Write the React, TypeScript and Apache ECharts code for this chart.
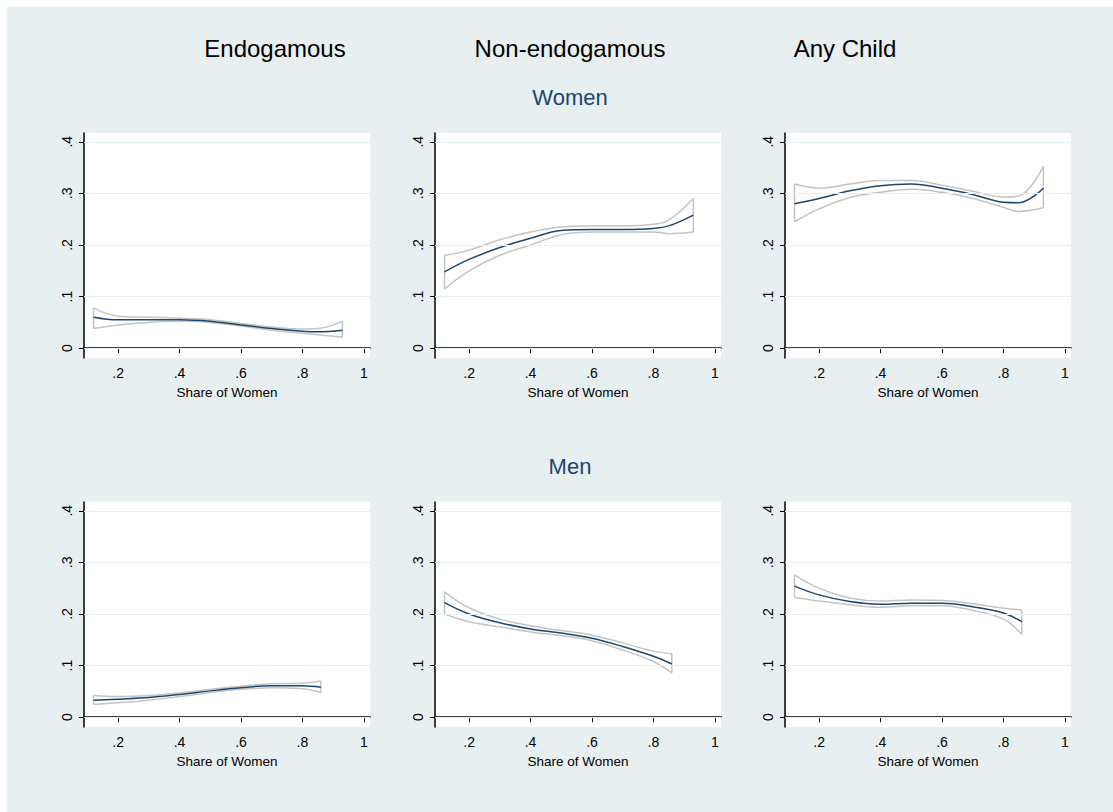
import React, { useRef, useEffect } from 'react';
import * as echarts from 'echarts';

const xTop = [0.12, 0.2, 0.3, 0.4, 0.5, 0.6, 0.7, 0.8, 0.85, 0.93];
const xBot = [0.12, 0.2, 0.3, 0.4, 0.5, 0.6, 0.7, 0.8, 0.86];

const womenEndoEst = [0.06, 0.055, 0.055, 0.055, 0.052, 0.045, 0.038, 0.033, 0.032, 0.035];
const womenEndoHi = [0.078, 0.062, 0.06, 0.058, 0.055, 0.048, 0.041, 0.037, 0.038, 0.052];
const womenEndoLo = [0.038, 0.045, 0.05, 0.052, 0.05, 0.043, 0.035, 0.029, 0.026, 0.021];

const womenNonEst = [0.148, 0.172, 0.195, 0.213, 0.228, 0.23, 0.23, 0.232, 0.237, 0.258];
const womenNonHi = [0.18, 0.19, 0.21, 0.225, 0.235, 0.237, 0.237, 0.24, 0.248, 0.29];
const womenNonLo = [0.115, 0.15, 0.18, 0.2, 0.22, 0.225, 0.225, 0.225, 0.222, 0.225];

const womenAnyEst = [0.28, 0.29, 0.305, 0.315, 0.318, 0.31, 0.298, 0.283, 0.282, 0.31];
const womenAnyHi = [0.318, 0.31, 0.318, 0.325, 0.325, 0.316, 0.304, 0.293, 0.295, 0.352];
const womenAnyLo = [0.245, 0.27, 0.292, 0.302, 0.308, 0.302, 0.29, 0.273, 0.265, 0.272];

const menEndoEst = [0.033, 0.035, 0.038, 0.044, 0.051, 0.057, 0.061, 0.061, 0.058];
const menEndoHi = [0.042, 0.04, 0.042, 0.047, 0.054, 0.06, 0.065, 0.066, 0.07];
const menEndoLo = [0.025, 0.028, 0.033, 0.04, 0.048, 0.054, 0.057, 0.055, 0.048];

const menNonEst = [0.222, 0.2, 0.183, 0.171, 0.163, 0.153, 0.137, 0.118, 0.103];
const menNonHi = [0.243, 0.212, 0.19, 0.177, 0.168, 0.159, 0.144, 0.128, 0.123];
const menNonLo = [0.2, 0.185, 0.175, 0.165, 0.158, 0.148, 0.13, 0.108, 0.086];

const menAnyEst = [0.254, 0.237, 0.224, 0.219, 0.221, 0.221, 0.214, 0.202, 0.185];
const menAnyHi = [0.276, 0.25, 0.231, 0.225, 0.227, 0.226, 0.22, 0.211, 0.208];
const menAnyLo = [0.232, 0.225, 0.218, 0.213, 0.216, 0.216, 0.207, 0.19, 0.16];

const yTicks = [0, 0.1, 0.2, 0.3, 0.4];
const xTicks = [0.2, 0.4, 0.6, 0.8, 1];
const colTitles = ['Endogamous', 'Non-endogamous', 'Any Child'];

const panels = [
  { xs: xTop, est: womenEndoEst, hi: womenEndoHi, lo: womenEndoLo },
  { xs: xTop, est: womenNonEst, hi: womenNonHi, lo: womenNonLo },
  { xs: xTop, est: womenAnyEst, hi: womenAnyHi, lo: womenAnyLo },
  { xs: xBot, est: menEndoEst, hi: menEndoHi, lo: menEndoLo },
  { xs: xBot, est: menNonEst, hi: menNonHi, lo: menNonLo },
  { xs: xBot, est: menAnyEst, hi: menAnyHi, lo: menAnyLo },
];

const colLeft = [84, 435, 785];
const rowTop = [133, 502];
const FONT = 'Liberation Sans, Arial, sans-serif';
const NAVY = '#1a476f';
const CI = '#c4c4c4';

const fmt = (v: number) => (v === 0 ? '0' : v === 1 ? '1' : String(v).replace(/^0/, ''));

const App: React.FC = () => {
  const chartRef = useRef<HTMLDivElement>(null);

  useEffect(() => {
    if (!chartRef.current) return;
    const chart = echarts.init(chartRef.current, null, { renderer: 'svg' });

    const grids: any[] = [];
    const xAxes: any[] = [];
    const yAxes: any[] = [];
    const series: any[] = [];

    panels.forEach((p, i) => {
      const r = Math.floor(i / 3);
      const c = i % 3;
      grids.push({
        left: colLeft[c], top: rowTop[r], width: 286, height: 225,
        backgroundColor: '#fff', show: true, borderWidth: 0,
      });
      xAxes.push({
        gridIndex: i, type: 'value', min: 0.089, max: 1.02,
        name: 'Share of Women', nameLocation: 'middle', nameGap: 27,
        nameTextStyle: { fontFamily: FONT, fontSize: 13.5, color: '#000' },
        axisLine: { lineStyle: { color: '#000', width: 1.5 } },
        axisTick: { customValues: xTicks, length: 5, lineStyle: { color: '#000' } },
        axisLabel: { customValues: xTicks, formatter: fmt, fontFamily: FONT, fontSize: 14, color: '#000', margin: 8 },
        splitLine: { show: false },
      });
      yAxes.push({
        gridIndex: i, type: 'value', min: -0.019, max: 0.417,
        axisLine: { show: true, lineStyle: { color: '#000', width: 1.5 } },
        axisTick: { show: true, customValues: yTicks, length: 5, lineStyle: { color: '#000' } },
        axisLabel: { customValues: yTicks, formatter: fmt, rotate: 90, fontFamily: FONT, fontSize: 14, color: '#000', margin: 10 },
        splitLine: { show: false },
      });
      const n = p.xs.length - 1;
      const base = { type: 'line', xAxisIndex: i, yAxisIndex: i, showSymbol: false, silent: true, z: 2 };
      series.push({
        ...base, data: p.xs.map((x, k) => [x, p.hi[k]]), smooth: 0.4,
        lineStyle: { color: CI, width: 1.5 },
        markLine: {
          silent: true, symbol: 'none', label: { show: false },
          lineStyle: { color: '#e6eff1', type: 'solid', width: 1 },
          data: yTicks.map((v) => ({ yAxis: v })),
        },
      });
      series.push({ ...base, data: p.xs.map((x, k) => [x, p.lo[k]]), smooth: 0.4, lineStyle: { color: CI, width: 1.5 } });
      series.push({ ...base, data: [[p.xs[0], p.lo[0]], [p.xs[0], p.hi[0]]], lineStyle: { color: CI, width: 1.5 } });
      series.push({ ...base, data: [[p.xs[n], p.lo[n]], [p.xs[n], p.hi[n]]], lineStyle: { color: CI, width: 1.5 } });
      series.push({
        ...base, data: p.xs.map((x, k) => [x, p.est[k]]), smooth: 0.4,
        lineStyle: { color: NAVY, width: 1.5 }, z: 3,
      });
    });

    const headerX = [275, 570, 845];
    chart.setOption({
      animation: false,
      backgroundColor: '#fff',
      graphic: [
        { type: 'rect', shape: { x: 7, y: 7, width: 1106, height: 805 }, style: { fill: '#e8eff1' }, z: -10 },
        ...colTitles.map((t, k) => ({
          type: 'text', x: headerX[k], y: 48,
          style: { text: t, fontFamily: FONT, fontSize: 24, fill: '#000', textAlign: 'center', textVerticalAlign: 'middle' },
        })),
        { type: 'text', x: 570, y: 97, style: { text: 'Women', fontFamily: FONT, fontSize: 22, fill: NAVY, textAlign: 'center', textVerticalAlign: 'middle' } },
        { type: 'text', x: 570, y: 466, style: { text: 'Men', fontFamily: FONT, fontSize: 22, fill: NAVY, textAlign: 'center', textVerticalAlign: 'middle' } },
      ],
      grid: grids,
      xAxis: xAxes,
      yAxis: yAxes,
      series,
    });

    return () => chart.dispose();
  }, []);

  return (
    <div
      ref={chartRef}
      style={{ position: 'absolute', left: 0, top: 0, width: 1113, height: 812 }}
    />
  );
};

export default App;
